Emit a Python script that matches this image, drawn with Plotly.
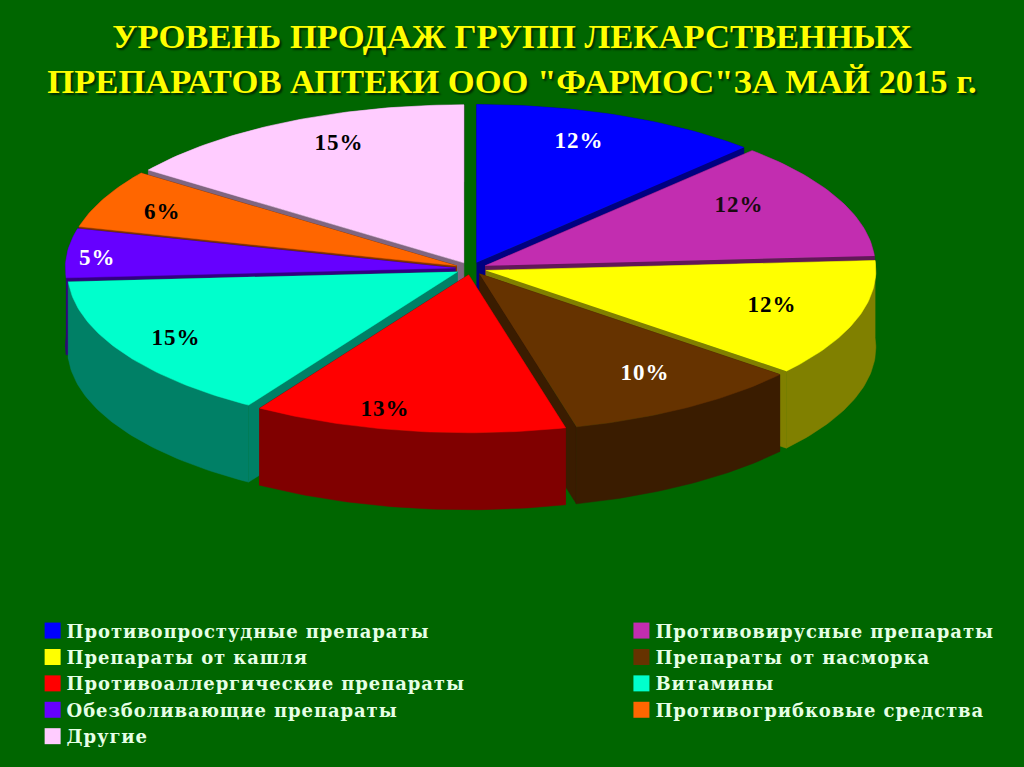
import math
import plotly.graph_objects as go

categories = ["Противопростудные препараты", "Противовирусные препараты", "Препараты от кашля",
              "Препараты от насморка", "Противоаллергические препараты", "Витамины",
              "Обезболивающие препараты", "Противогрибковые средства", "Другие"]
values = [12, 12, 12, 10, 13, 15, 5, 6, 15]
top_colors = ["#0000FF", "#C22DB0", "#FFFF00", "#663300", "#FF0000", "#00FFCC", "#6600FF", "#FF6600", "#FFCCFF"]
side_colors = ["#000080", "#611858", "#808000", "#3A1C00", "#800000", "#008066", "#330080", "#803300", "#806680"]
label_colors = ["#FFFFFF", "#1A0A10", "#000000", "#FFFFFF", "#000000", "#000000", "#FFFFFF", "#000000", "#000000"]
label_shift = [(-5, -12), (-11, -11), (8, -3), (9, -1), (-38, 17), (-30, 5), (-67, 1), (-30, -4), (8, -15)]
title_lines = ['УРОВЕНЬ ПРОДАЖ ГРУПП ЛЕКАРСТВЕННЫХ', 'ПРЕПАРАТОВ АПТЕКИ ООО "ФАРМОС"ЗА МАЙ 2015 г.']

CX, CY, RX, RY, DEPTH, EXPLODE = 471, 268.5, 390, 158, 77, 0.04
BG = "#006600"
total = sum(values)


def pt(ax, ay, t):
    return ax + RX * math.sin(t), ay - RY * math.cos(t)


slices = []
acc = 0
for i, v in enumerate(values):
    a0 = 2 * math.pi * acc / total
    a1 = 2 * math.pi * (acc + v) / total
    acc += v
    mid = (a0 + a1) / 2
    ax = CX + EXPLODE * RX * math.sin(mid)
    ay = CY - EXPLODE * RY * math.cos(mid)
    slices.append(dict(i=i, a0=a0, a1=a1, mid=mid, ax=ax, ay=ay))

fig = go.Figure()
# paint from the back of the pie to the front
for s in sorted(slices, key=lambda q: -math.cos(q["mid"])):
    i, a0, a1, ax, ay = s["i"], s["a0"], s["a1"], s["ax"], s["ay"]
    n = max(8, int((a1 - a0) * 60))
    ts = [a0 + (a1 - a0) * k / n for k in range(n + 1)]
    arc = [pt(ax, ay, t) for t in ts]
    walls = [
        [(ax, ay), arc[0], (arc[0][0], arc[0][1] + DEPTH), (ax, ay + DEPTH)],
        [(ax, ay), arc[-1], (arc[-1][0], arc[-1][1] + DEPTH), (ax, ay + DEPTH)],
        arc + [(p[0], p[1] + DEPTH) for p in reversed(arc)],
    ]
    for w in walls:
        fig.add_trace(go.Scatter(x=[p[0] for p in w], y=[p[1] for p in w], mode="lines", fill="toself",
                                 fillcolor=side_colors[i], line=dict(width=0.5, color=side_colors[i]),
                                 showlegend=False, hoverinfo="skip"))
    poly = [(ax, ay)] + arc
    fig.add_trace(go.Scatter(x=[p[0] for p in poly], y=[p[1] for p in poly], mode="lines", fill="toself",
                             fillcolor=top_colors[i], line=dict(width=0.5, color=top_colors[i]),
                             showlegend=False, hoverinfo="text", text=f"{categories[i]}: {values[i]}%"))

# legend entries: odd-numbered categories in the left column, the rest in the right one
for k, (name, col) in enumerate(zip(categories, top_colors)):
    fig.add_trace(go.Scatter(x=[None], y=[None], mode="markers", name=name,
                             legend="legend" if k % 2 == 0 else "legend2",
                             marker=dict(symbol="square", size=16, color=col)))

annotations = []
for s in slices:
    i = s["i"]
    x = s["ax"] + 0.75 * RX * math.sin(s["mid"])
    y = s["ay"] - 0.75 * RY * math.cos(s["mid"])
    annotations.append(dict(x=x, y=y, text=f"{values[i]}%", showarrow=False,
                            xshift=label_shift[i][0], yshift=-label_shift[i][1],
                            font=dict(family="Liberation Serif", size=23, color=label_colors[i], weight="bold")))

legend_font = dict(family="DejaVu Serif", size=18, color="#E6FFE6", weight="bold")
fig.update_layout(
    width=1024, height=767, autosize=False,
    margin=dict(l=0, r=0, t=0, b=0, autoexpand=False),
    paper_bgcolor=BG, plot_bgcolor=BG,
    xaxis=dict(range=[0, 1024], visible=False, fixedrange=True),
    yaxis=dict(range=[767, 0], visible=False, fixedrange=True),
    title=dict(text="<br>".join(title_lines), x=0.5, xanchor="center", y=0.938, yanchor="middle",
               font=dict(family="Liberation Serif", size=34.6, color="#FFFF00", weight="bold",
                         shadow="2px 2px 2px rgba(0,0,0,0.6)")),
    legend=dict(x=0.026, y=0.2016, xanchor="left", yanchor="top", bgcolor="rgba(0,0,0,0)", font=legend_font),
    legend2=dict(x=0.601, y=0.2016, xanchor="left", yanchor="top", bgcolor="rgba(0,0,0,0)", font=legend_font),
    annotations=annotations,
)
css = (".legendtext,.legend2text{letter-spacing:0.9px}"
       ".scrollbox{clip-path:none !important}"
       ".annotation-text{letter-spacing:1px}"
       ".legendsymbols{transform:translate(6px,0)}")
post = ("document.body.style.margin='0';"
        "var st=document.createElement('style');st.textContent=%r;document.head.appendChild(st);" % css)
fig.write_html("out.html", config=dict(displayModeBar=False), post_script=post)
